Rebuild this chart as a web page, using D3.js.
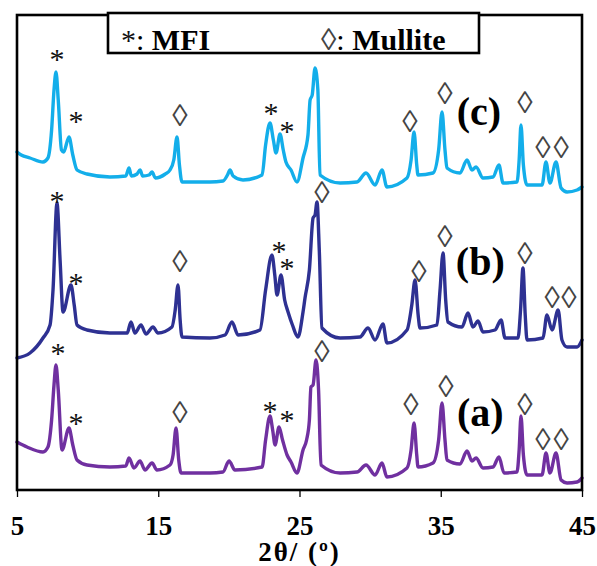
<!DOCTYPE html>
<html><head><meta charset="utf-8">
<script src="https://cdn.jsdelivr.net/npm/d3@7"></script>
<style>
html,body{margin:0;padding:0;background:#fff;}
svg{display:block;}
</style></head>
<body>
<div id="chart"></div>
<script>
// ---- Data (2θ in degrees, stacked intensity in arbitrary units) ----
const tickValues = [5, 15, 25, 35, 45];
const xTitle = "2θ/ (º)";
const seriesNames = ["(a)", "(b)", "(c)"];

const seriesA = [[5.00,48],[5.71,43],[6.84,38],[7.19,43],[7.45,70],[7.62,105],[7.76,125],[7.92,100],[8.19,40],[8.68,62],[8.95,45],[9.25,30],[9.96,25],[11.58,23],[12.70,24],[12.93,32],[13.28,22],[13.71,29],[14.06,20],[14.56,27],[14.91,20],[15.83,25],[16.05,35],[16.26,62],[16.45,30],[16.61,17],[18.66,17],[19.58,18],[20.01,29],[20.43,20],[22.35,23],[22.60,50],[22.91,74],[23.10,60],[23.27,45],[23.55,63],[23.80,50],[24.12,35],[24.40,28],[24.82,17],[25.25,40],[25.50,50],[25.70,70],[25.81,103],[25.96,105],[26.17,130],[26.35,100],[26.52,25],[27.87,17],[29.07,18],[29.71,25],[30.35,15],[30.84,27],[31.19,13],[32.61,22],[32.90,40],[33.11,67],[33.30,35],[33.39,23],[34.45,27],[34.85,50],[35.09,87],[35.30,50],[35.44,30],[36.36,26],[36.86,39],[37.21,29],[37.50,32],[37.99,22],[38.70,23],[39.12,33],[39.48,17],[40.40,18],[40.55,40],[40.68,74],[40.85,35],[41.11,15],[42.17,15],[42.45,37],[42.73,17],[43.16,37],[43.52,10],[43.94,7],[44.65,8],[45.00,12]];

const seriesB = [[5.00,132],[5.92,137],[6.84,152],[7.34,165],[7.55,200],[7.83,287],[8.05,230],[8.26,178],[8.82,205],[9.05,185],[9.25,165],[9.96,160],[11.58,157],[12.80,157],[13.07,168],[13.35,157],[13.78,165],[14.13,156],[14.63,163],[14.98,157],[15.97,163],[16.20,180],[16.40,205],[16.55,170],[16.68,153],[18.66,152],[19.73,155],[20.22,168],[20.65,155],[22.20,160],[22.60,200],[23.05,235],[23.25,215],[23.41,195],[23.69,215],[23.95,190],[24.19,178],[24.50,165],[24.89,153],[25.25,178],[25.39,192],[25.70,220],[25.96,272],[26.10,275],[26.24,288],[26.40,240],[26.59,162],[27.87,152],[29.28,153],[29.85,162],[30.35,150],[30.91,166],[31.19,147],[32.61,160],[32.95,185],[33.18,210],[33.40,175],[33.53,162],[34.73,165],[34.95,200],[35.16,237],[35.35,190],[35.51,168],[36.50,163],[36.93,177],[37.28,163],[37.64,169],[37.99,158],[38.84,160],[39.27,170],[39.55,152],[40.47,152],[40.65,180],[40.82,222],[40.98,175],[41.11,150],[42.24,152],[42.52,175],[42.88,160],[43.31,180],[43.58,150],[43.94,143],[44.65,143],[44.93,148],[45.00,150]];

const seriesC = [[5.00,338],[5.30,335],[5.92,332],[6.84,328],[7.19,332],[7.45,360],[7.62,400],[7.76,418],[7.92,390],[8.15,340],[8.30,338],[8.68,353],[8.95,335],[9.25,320],[9.96,316],[11.58,313],[12.70,314],[12.93,322],[13.10,314],[13.50,316],[13.71,320],[13.90,314],[14.35,315],[14.56,318],[14.80,312],[15.50,316],[15.83,320],[16.10,330],[16.33,353],[16.50,325],[16.68,308],[18.66,308],[19.58,309],[19.90,315],[20.08,320],[20.30,314],[21.00,310],[22.35,315],[22.60,345],[22.91,367],[23.15,350],[23.34,337],[23.62,356],[23.85,340],[24.04,328],[24.40,320],[24.82,308],[25.25,332],[25.60,355],[25.75,390],[25.90,395],[26.10,422],[26.30,400],[26.45,315],[27.87,307],[29.07,308],[29.71,317],[30.35,305],[30.84,320],[31.19,303],[32.61,312],[32.90,330],[33.11,358],[33.30,325],[33.39,315],[34.45,317],[34.85,340],[35.09,378],[35.30,340],[35.44,322],[36.36,317],[36.86,330],[37.21,320],[37.50,323],[37.99,312],[38.70,313],[39.12,325],[39.41,307],[40.40,308],[40.55,330],[40.68,365],[40.85,325],[41.11,305],[42.17,305],[42.45,328],[42.73,307],[43.16,328],[43.52,302],[43.94,298],[44.65,300],[45.00,303]];

// phase markers: [type, 2θ, intensity]  (type: "m" = MFI *, "u" = Mullite ◊)
const markersA = [["m",7.90,143],["m",9.18,73],["u",16.54,77],["m",22.91,85],["m",24.12,76],["u",26.59,138],["u",32.89,85],["u",35.37,103],["u",40.96,85],["u",42.24,50],["u",43.52,50]];
const markersB = [["m",7.83,295],["m",9.18,213],["u",16.54,228],["m",23.55,245],["m",24.12,228],["u",26.59,297],["u",33.46,218],["u",35.30,253],["u",40.96,236],["u",42.88,192],["u",44.08,192]];
const markersC = [["m",7.83,437],["m",9.18,375],["u",16.54,374],["m",22.98,383],["m",24.12,365],["u",32.82,368],["u",35.30,396],["u",40.96,387],["u",42.24,342],["u",43.52,342]];

// sample label anchors [2θ, intensity]
const labelAnchors = [[37.8,64],[37.8,215],[37.7,365]];

const legendItems = [["*", "MFI"], ["◊", "Mullite"]];

// ---- Layout ----
const W = 597, H = 566;
const colors = ["#7030a0", "#2e3192", "#13aeea"];
const serif = "'Liberation Serif','Times New Roman',serif";

const svg = d3.select("#chart").append("svg").attr("width", W).attr("height", H);

const x = d3.scaleLinear().domain([5, 45]).range([17, 582]);
const y = d3.scaleLinear().domain([0, 475]).range([490, 15]);

const line = d3.line().x(d => x(d[0])).y(d => y(d[1])).curve(d3.curveMonotoneX);

const allSeries = [seriesA, seriesB, seriesC];
svg.append("g").selectAll("path").data(allSeries).join("path")
  .attr("d", line)
  .attr("fill", "none")
  .attr("stroke", (d, i) => colors[i])
  .attr("stroke-width", 3.4)
  .attr("stroke-linejoin", "round")
  .attr("stroke-linecap", "round");

// frame
svg.append("rect").attr("x", 17).attr("y", 15).attr("width", 565).attr("height", 475)
  .attr("fill", "none").attr("stroke", "#000").attr("stroke-width", 2.6);

// axis
const axis = d3.axisBottom(x).tickValues(tickValues).tickSize(7).tickSizeOuter(0).tickPadding(19)
  .tickFormat(d3.format("d"));
const gx = svg.append("g").attr("transform", "translate(0,490)").call(axis);
gx.select(".domain").remove();
gx.selectAll(".tick line").attr("stroke", "#000").attr("stroke-width", 1.3);
gx.selectAll(".tick text").attr("fill", "#000").attr("font-family", serif)
  .attr("font-weight", "bold").attr("font-size", 27);

svg.append("text").attr("x", x(25)).attr("y", 561).attr("text-anchor", "middle")
  .attr("font-family", serif).attr("font-weight", "bold").attr("font-size", 27)
  .attr("letter-spacing", 2)
  .text(xTitle);

// markers
const allMarkers = [markersA, markersB, markersC];
const mg = svg.append("g");
allMarkers.forEach(ms => {
  ms.forEach(m => {
    const isStar = m[0] === "m";
    mg.append("text")
      .attr("x", x(m[1]))
      .attr("y", y(m[2]) + (isStar ? 16 : 10))
      .attr("text-anchor", "middle")
      .attr("font-family", serif)
      .attr("font-size", isStar ? 30 : 31)
      .attr("fill", isStar ? "#111" : "#444")
      .text(isStar ? "*" : "◊");
  });
});

// sample labels
svg.append("g").selectAll("text").data(seriesNames).join("text")
  .attr("x", (d, i) => x(labelAnchors[i][0]))
  .attr("y", (d, i) => y(labelAnchors[i][1]))
  .attr("text-anchor", "middle")
  .attr("font-family", serif).attr("font-weight", "bold").attr("font-size", 40)
  .text(d => d);

// legend
const lg = svg.append("g");
lg.append("rect").attr("x", 108).attr("y", 13).attr("width", 371).attr("height", 40)
  .attr("fill", "#fff").attr("stroke", "#000").attr("stroke-width", 2.6);
const legendX = [121, 321];
legendItems.forEach((it, i) => {
  const t = lg.append("text").attr("x", legendX[i]).attr("y", 50)
    .attr("font-family", serif).attr("font-size", 30).attr("fill", "#000");
  t.append("tspan").attr("fill", it[0] === "*" ? "#111" : "#444").attr("font-size", it[0] === "*" ? 30 : 31).text(it[0]);
  t.append("tspan").text(": ");
  t.append("tspan").attr("font-weight", "bold").text(it[1]);
});
</script>
</body></html>
